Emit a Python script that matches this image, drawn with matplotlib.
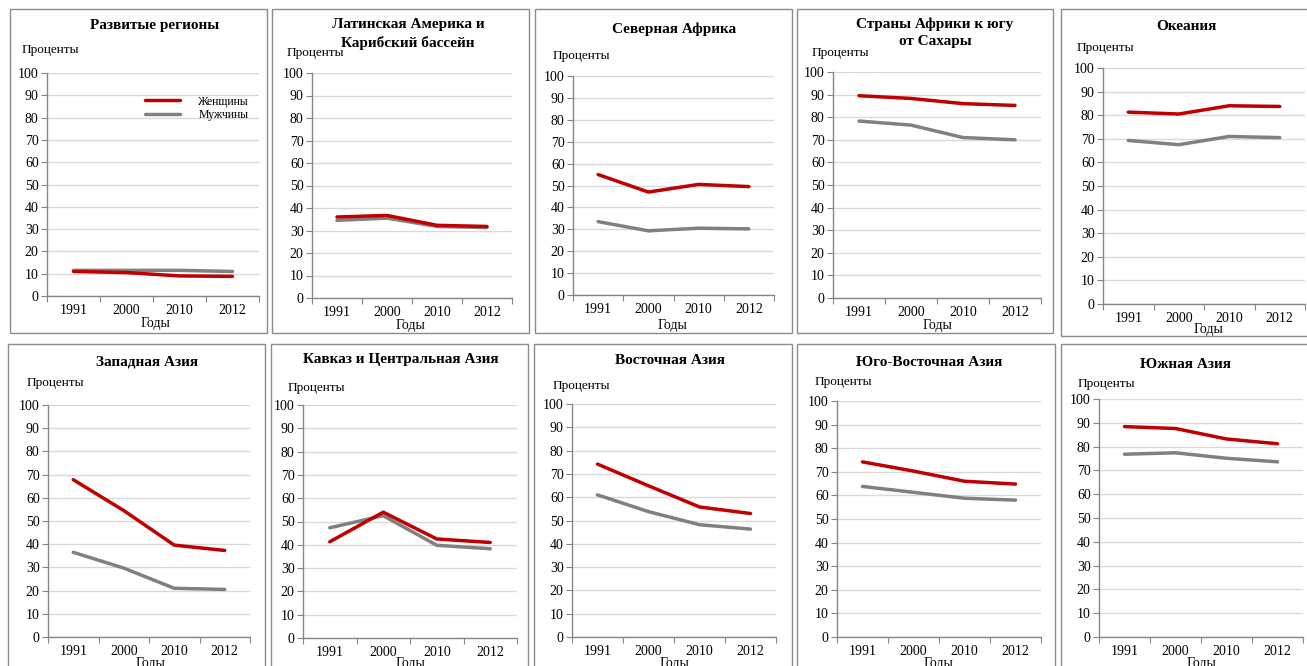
import matplotlib
matplotlib.use("Agg")
import matplotlib.pyplot as plt
from matplotlib.patches import Rectangle

plt.rcParams['font.family'] = ['Liberation Serif', 'DejaVu Serif']

W, H = 1307, 666

years = ["1991", "2000", "2010", "2012"]

titles = [
    "Развитые регионы",
    "Латинская Америка и\nКарибский бассейн",
    "Северная Африка",
    "Страны Африки к югу\nот Сахары",
    "Океания",
    "Западная Азия",
    "Кавказ и Центральная Азия",
    "Восточная Азия",
    "Юго-Восточная Азия",
    "Южная Азия",
]

women = [
    [11.0, 10.5, 9.0, 8.8],
    [36.0, 36.7, 32.3, 31.8],
    [55.0, 47.0, 50.5, 49.5],
    [89.5, 88.3, 86.0, 85.2],
    [81.3, 80.5, 84.0, 83.7],
    [67.8, 54.5, 39.6, 37.3],
    [41.3, 54.0, 42.5, 41.0],
    [74.2, 64.9, 55.8, 53.0],
    [74.2, 70.3, 66.0, 64.8],
    [88.4, 87.6, 83.2, 81.2],
]

men = [
    [11.5, 11.5, 11.5, 11.0],
    [34.5, 35.5, 31.8, 31.3],
    [33.5, 29.3, 30.5, 30.2],
    [78.3, 76.5, 71.0, 70.0],
    [69.3, 67.5, 71.0, 70.5],
    [36.5, 29.7, 21.0, 20.5],
    [47.3, 52.5, 39.8, 38.3],
    [61.0, 53.8, 48.2, 46.3],
    [63.8, 61.3, 58.8, 58.0],
    [76.8, 77.4, 75.1, 73.6],
]

yticks = list(range(0, 101, 10))

# panel geometry in pixels: box (x0, y0, x1, y1), axes (left, right, top, bottom),
# title centre (x, y), "Проценты" position (x, y), "Годы" position (x, y)
panels = [
    dict(box=(10, 9, 267, 333), ax=(47, 259, 73, 296), title=(155, 26), ylab=(22, 50), xlab=(155, 324)),
    dict(box=(272, 9, 529, 333), ax=(312, 512, 73, 298), title=(408, 34), ylab=(287, 53), xlab=(410, 326)),
    dict(box=(535, 9, 792, 333), ax=(573, 774, 76, 295), title=(674, 29), ylab=(553, 56), xlab=(672, 325)),
    dict(box=(797, 9, 1053, 333), ax=(833, 1041, 72, 298), title=(935, 33), ylab=(812, 53), xlab=(937, 326)),
    dict(box=(1061, 9, 1320, 336), ax=(1103, 1305, 68, 304), title=(1186, 26), ylab=(1077, 48), xlab=(1208, 329)),
    dict(box=(8, 344, 265, 680), ax=(48, 250, 405, 637), title=(147, 362), ylab=(27, 383), xlab=(150, 664)),
    dict(box=(271, 344, 528, 680), ax=(303, 517, 405, 638), title=(401, 360), ylab=(288, 388), xlab=(410, 664)),
    dict(box=(534, 344, 792, 680), ax=(572, 776, 404, 637), title=(670, 360), ylab=(553, 386), xlab=(674, 664)),
    dict(box=(797, 344, 1055, 680), ax=(837, 1041, 401, 637), title=(929, 362), ylab=(815, 382), xlab=(938, 664)),
    dict(box=(1061, 344, 1320, 680), ax=(1099, 1303, 399, 637), title=(1186, 364), ylab=(1078, 384), xlab=(1201, 664)),
]

RED = "#c00000"
GREY = "#808080"
AXIS = "#868686"
GRID = "#d9d9d9"

fig = plt.figure(figsize=(W / 100, H / 100), dpi=100)
fig.patch.set_facecolor("white")


def fx(x):
    return x / W


def fy(y):
    return 1 - y / H


for i, p in enumerate(panels):
    x0, y0, x1, y1 = p["box"]
    fig.patches.append(Rectangle((fx(x0), fy(y1)), fx(x1 - x0), (y1 - y0) / H,
                                 transform=fig.transFigure, fill=False,
                                 edgecolor="#8c8c8c", linewidth=1.0, zorder=0))
    l, r, t, b = p["ax"]
    ax = fig.add_axes([fx(l), fy(b), fx(r - l), (b - t) / H])
    xs = [k + 0.5 for k in range(len(years))]
    ax.plot(xs, men[i], color=GREY, lw=2.5, solid_capstyle="round", label="Мужчины", zorder=3)
    ax.plot(xs, women[i], color=RED, lw=2.5, solid_capstyle="round", label="Женщины", zorder=4)
    ax.set_xlim(0, 4)
    ax.set_ylim(0, 100)
    ax.set_yticks(yticks)
    ax.set_yticklabels([str(v) for v in yticks], fontsize=10)
    ax.set_xticks([0, 1, 2, 3, 4])
    ax.set_xticklabels([])
    ax.set_xticks(xs, minor=True)
    ax.set_xticklabels(years, minor=True, fontsize=10)
    ax.tick_params(axis="x", which="minor", length=0, pad=6)
    ax.tick_params(axis="x", which="major", length=4, color=AXIS, direction="out")
    ax.tick_params(axis="y", length=4, color=AXIS, direction="out", pad=2)
    ax.grid(axis="y", color=GRID, lw=1.0)
    ax.set_axisbelow(True)
    for s in ("top", "right"):
        ax.spines[s].set_visible(False)
    for s in ("left", "bottom"):
        ax.spines[s].set_color(AXIS)
        ax.spines[s].set_linewidth(1.0)
    ax.patch.set_alpha(0)

    tx, ty = p["title"]
    fig.text(fx(tx), fy(ty), titles[i], ha="center", va="center",
             fontsize=11, fontweight="bold", linespacing=1.4)
    yx, yy = p["ylab"]
    fig.text(fx(yx), fy(yy), "Проценты", ha="left", va="center", fontsize=9.5)
    gx, gy = p["xlab"]
    fig.text(fx(gx), fy(gy), "Годы", ha="center", va="center", fontsize=10)

    if i == 0:
        handles, labels = ax.get_legend_handles_labels()
        ax.legend(handles[::-1], labels[::-1], loc="upper left",
                  bbox_to_anchor=(0.44, 0.92), frameon=False,
                  fontsize=8.5, handlelength=3.0, handletextpad=1.5,
                  labelspacing=0.1, borderaxespad=0)

fig.savefig("out.png", dpi=100, facecolor="white")
